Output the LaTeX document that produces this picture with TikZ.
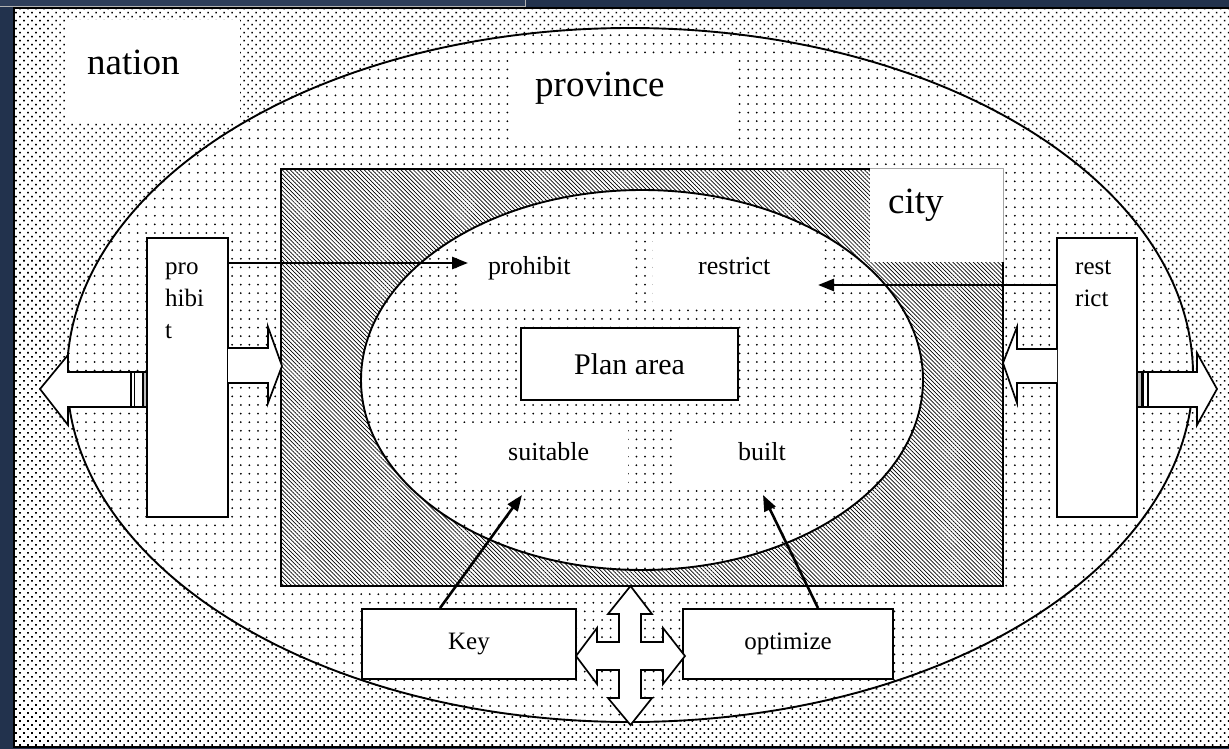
\documentclass[tikz,border=0pt]{standalone}
\usepackage{fontspec}
\setmainfont{Liberation Serif}
\usetikzlibrary{patterns.meta,arrows.meta,calc}

\definecolor{navy}{HTML}{22324D}
\definecolor{tabnavy}{HTML}{2E3E5A}
\definecolor{stripegray}{HTML}{BDBDBD}

\begin{document}
\begin{tikzpicture}[x=1pt,y=-1pt,
  dense/.style={pattern={Dots[radius=1.1pt,distance=5.66pt,angle=45]},pattern color=black},
  sparse/.style={pattern={Dots[radius=1.0pt,distance=8.6pt]},pattern color=black},
  hatch/.style={pattern={Lines[angle=-45,distance=2.9pt,line width=0.7pt]},pattern color=black},
  outline/.style={draw=black,line width=1.8pt},
  boxed/.style={draw=black,line width=1.8pt,fill=white,inner sep=0pt},
  bigtxt/.style={font=\fontsize{37}{40}\selectfont,inner sep=0pt},
  midtxt/.style={font=\fontsize{26}{30}\selectfont,inner sep=0pt},
  smalltxt/.style={font=\fontsize{25}{30}\selectfont,inner sep=0pt},
  blockarrow/.style={draw=black,line width=1.7pt,fill=white,line join=miter},
  arr/.style={line width=2.6pt,-{Triangle[length=16pt,width=12pt]}}
]
\useasboundingbox (0,0) rectangle (1229,749);

% window background
\fill[navy] (0,0) rectangle (1229,749);
\fill[tabnavy] (0,0) rectangle (525,7);
\draw[gray!60,line width=0.8pt] (0,6) -- (525,6) -- (525,0);

% nation level: outer frame
\fill[white] (14,8) rectangle (1232,747);
\fill[dense] (14,8) rectangle (1232,747);
\draw[line width=1.5pt] (1232,8) -- (14,8) -- (14,747) -- (1232,747);

% province level: large ellipse
\fill[white] (630,375) ellipse [x radius=563,y radius=347];
\fill[sparse] (630,375) ellipse [x radius=563,y radius=347];
\draw[line width=1.9pt] (630,375) ellipse [x radius=563,y radius=347];

% city level: hatched rectangle
\fill[white] (281,169) rectangle (1003,586);
\fill[hatch] (281,169) rectangle (1003,586);
\draw[outline] (281,169) rectangle (1003,586);

% plan area: inner ellipse
\fill[white] (642,380) ellipse [x radius=281,y radius=190];
\fill[sparse] (642,380) ellipse [x radius=281,y radius=190];
\draw[line width=1.9pt] (642,380) ellipse [x radius=281,y radius=190];

% white label patches
\fill[white] (65,20) rectangle (240,123);
\fill[white] (510,57) rectangle (738,140);
\fill[white] (870,168) rectangle (1003,262);
\draw[gray!70,line width=0.8pt] (870,168) -- (1003,168) -- (1003,262);
\fill[white] (462,240) rectangle (630,308);
\fill[white] (653,240) rectangle (821,308);
\fill[white] (462,423) rectangle (628,487);
\fill[white] (678,423) rectangle (846,487);

% level names
\node[bigtxt,anchor=base west] (nation) at (87,75) {nation};
\node[bigtxt,anchor=base west] (province) at (535,97) {province};
\node[bigtxt,anchor=base west] (city) at (888,213) {city};

% zone names inside the plan area
\node[midtxt,anchor=base west] (prohibitlbl) at (488,274) {prohibit};
\node[midtxt,anchor=base west] (restrictlbl) at (698,274) {restrict};
\node[midtxt,anchor=base west] (suitablelbl) at (508,460) {suitable};
\node[midtxt,anchor=base west] (builtlbl) at (738,460) {built};

% central box
\node[boxed,minimum width=217,minimum height=72,font=\fontsize{30}{34}\selectfont] (plan) at (629.5,364) {Plan area};

% side boxes
\node[boxed,minimum width=81,minimum height=279] (lbox) at (187.5,377.5) {};
\node[boxed,minimum width=80,minimum height=279] (rbox) at (1097,377.5) {};
\node[smalltxt,anchor=base west] (lt1) at (165,274) {pro};
\node[smalltxt,anchor=base west] (lt2) at (165,306) {hibi};
\node[smalltxt,anchor=base west] (lt3) at (165,338) {t};
\node[smalltxt,anchor=base west] (rt1) at (1075,274) {rest};
\node[smalltxt,anchor=base west] (rt2) at (1075,306) {rict};

% bottom boxes
\node[boxed,minimum width=214,minimum height=70,font=\fontsize{25}{30}\selectfont] (key) at (469,644) {Key};
\node[boxed,minimum width=210,minimum height=70,font=\fontsize{25}{30}\selectfont] (opt) at (788,644) {optimize};

% striped block arrow, left side, pointing outwards
\draw[blockarrow] (147,372) -- (68,372) -- (68,355) -- (40,389) -- (68,425) -- (68,407) -- (147,407);
\filldraw[fill=stripegray,draw=black,line width=1.1pt] (143,372) rectangle (147,407);
\draw[line width=1.1pt] (131,372) -- (131,407) (134.5,372) -- (134.5,407);

% striped block arrow, right side, pointing outwards
\draw[blockarrow] (1137,372) -- (1197,372) -- (1197,353) -- (1217,389) -- (1197,425) -- (1197,407) -- (1137,407);
\filldraw[fill=stripegray,draw=black,line width=1.1pt] (1137,372) rectangle (1142,407);
\draw[line width=1.1pt] (1143.5,372) -- (1143.5,407) (1148,372) -- (1148,407);

% block arrows pointing into the city rectangle
\draw[blockarrow] (228,348) -- (268,348) -- (268,327) -- (282,366) -- (268,403) -- (268,383) -- (228,383);
\draw[blockarrow] (1057,349) -- (1017,349) -- (1017,327) -- (1003,363) -- (1017,403) -- (1017,383) -- (1057,383);

% four-way block arrow between the bottom boxes
\draw[blockarrow] (630.5,586) -- (652,614) -- (641,614) -- (641,642) -- (663,642) -- (663,628)
  -- (685,656) -- (663,684) -- (663,670) -- (641,670) -- (641,698) -- (652,698)
  -- (630.5,725) -- (608,698) -- (619,698) -- (619,670) -- (597,670) -- (597,684)
  -- (576,656) -- (597,628) -- (597,642) -- (619,642) -- (619,614) -- (608,614) -- cycle;

% line arrows
\coordinate (ptip) at (468,263);
\coordinate (rtip) at (818,285);
\coordinate (stip) at (522,495);
\coordinate (btip) at (763,495);
\draw[arr] (lbox.east |- ptip) -- (ptip);
\draw[arr] (rbox.west |- rtip) -- (rtip);
\draw[arr] ($(key.north)+(-29,0)$) -- (stip);
\draw[arr] ($(opt.north)+(30,0)$) -- (btip);
\end{tikzpicture}
\end{document}
